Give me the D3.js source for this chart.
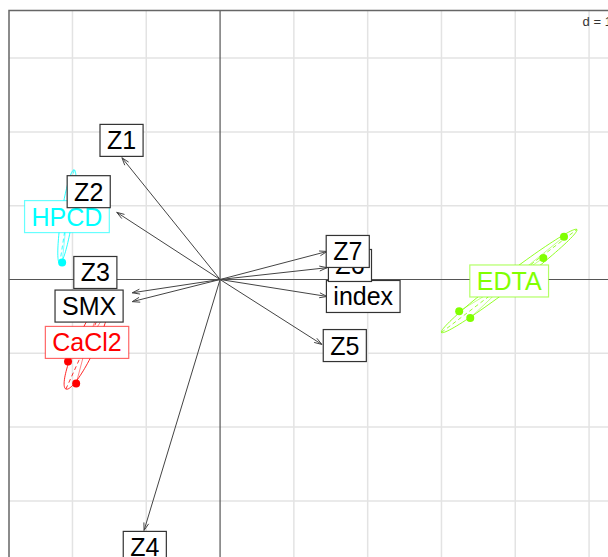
<!DOCTYPE html>
<html>
<head>
<meta charset="utf-8">
<script src="https://cdn.jsdelivr.net/npm/d3@7/dist/d3.min.js"></script>
<style>
  body { margin: 0; background: #fff; }
  text { font-family: "Liberation Sans", Arial, sans-serif; }
</style>
</head>
<body>
<div id="chart"></div>
<script>
const w = 608;
const h = 557;
const unit = 73.8; // pixels per grid unit (d = 1)

// arrows (variables)
const varNames = ['Z1', 'Z2', 'Z3', 'SMX', 'Z4', 'Z5', 'index', 'Z6', 'Z7'];
const varX = [-1.33, -1.40, -1.19, -1.19, -1.03, 1.38, 1.45, 1.45, 1.45];
const varY = [1.65, 0.91, -0.18, -0.30, -3.40, -0.88, -0.23, 0.16, 0.38];
// where the label boxes ended up
const labX = [-1.335, -1.78, -1.69, -1.775, -1.02, 1.69, 1.94, 1.76, 1.73];
const labY = [1.885, 1.19, 0.095, -0.36, -3.63, -0.895, -0.23, 0.19, 0.38];

// classes (rows)
const classNames = ['CaCl2', 'EDTA', 'HPCD'];
const classColors = ['#FF0000', '#80FF00', '#00FFFF'];
const cacl2X = [-2.06, -1.95, -1.63, -1.57];
const cacl2Y = [-1.11, -1.41, -0.39, -0.50];
const edtaX = [4.66, 4.38, 3.24, 3.39];
const edtaY = [0.58, 0.29, -0.43, -0.52];
const hpcdX = [-2.02, -1.97, -2.14, -2.17];
const hpcdY = [1.34, 1.12, 0.23, 0.72];
const classX = [cacl2X, edtaX, hpcdX];
const classY = [cacl2Y, edtaY, hpcdY];

const gridX = [-2, -1, 1, 2, 3, 4, 5];
const gridY = [-3, -2, -1, 1, 2, 3];

const xmin = -2.86, xmax = 5.35, ymin = -3.9, ymax = 3.645;
const frameLeft = 9, frameTop = 10.5;

const x = d3.scaleLinear().domain([xmin, xmax]).range([frameLeft, frameLeft + (xmax - xmin) * unit]);
const y = d3.scaleLinear().domain([ymin, ymax]).range([frameTop + (ymax - ymin) * unit, frameTop]);

const svg = d3.select('#chart').append('svg')
  .attr('width', w)
  .attr('height', h);

// grid
svg.append('g').selectAll('line')
  .data(gridX).enter().append('line')
  .attr('x1', d => x(d)).attr('x2', d => x(d))
  .attr('y1', y(ymax)).attr('y2', y(ymin))
  .attr('stroke', '#e3e3e3').attr('stroke-width', 1.5);
svg.append('g').selectAll('line')
  .data(gridY).enter().append('line')
  .attr('y1', d => y(d)).attr('y2', d => y(d))
  .attr('x1', x(xmin)).attr('x2', x(xmax))
  .attr('stroke', '#e3e3e3').attr('stroke-width', 1.5);

// axes through origin
svg.append('line')
  .attr('x1', x(0)).attr('x2', x(0)).attr('y1', y(ymax)).attr('y2', y(ymin))
  .attr('stroke', '#555').attr('stroke-width', 1.2);
svg.append('line')
  .attr('x1', x(xmin)).attr('x2', x(xmax)).attr('y1', y(0)).attr('y2', y(0))
  .attr('stroke', '#555').attr('stroke-width', 1.2);

// s.class: ellipses, stars, points
const line = d3.line().x(d => x(d[0])).y(d => y(d[1]));

const centroids = [];
classNames.forEach(function (name, k) {
  const px = classX[k], py = classY[k], col = classColors[k];
  const n = px.length;
  const mx = d3.mean(px), my = d3.mean(py);
  centroids.push([mx, my]);
  let a = 0, b = 0, c = 0;
  for (let i = 0; i < n; i++) {
    a += (px[i] - mx) * (px[i] - mx) / n;
    b += (px[i] - mx) * (py[i] - my) / n;
    c += (py[i] - my) * (py[i] - my) / n;
  }
  const half = Math.sqrt((a - c) * (a - c) / 4 + b * b);
  const l1 = (a + c) / 2 + half, l2 = Math.max((a + c) / 2 - half, 0);
  const th = 0.5 * Math.atan2(2 * b, a - c);
  const r1 = 1.5 * Math.sqrt(l1), r2 = 1.5 * Math.sqrt(l2);
  const ct = Math.cos(th), st = Math.sin(th);
  const pts = d3.range(0, 101).map(function (i) {
    const t = i / 100 * 2 * Math.PI;
    return [mx + r1 * Math.cos(t) * ct - r2 * Math.sin(t) * st,
            my + r1 * Math.cos(t) * st + r2 * Math.sin(t) * ct];
  });
  const g = svg.append('g');
  g.append('path').attr('d', line(pts))
    .attr('fill', 'none').attr('stroke', col).attr('stroke-width', 1).attr('opacity', 0.85);
  // ellipse axes
  g.append('path').attr('d', line([[mx - r1 * ct, my - r1 * st], [mx + r1 * ct, my + r1 * st]]))
    .attr('stroke', col).attr('stroke-width', 1).attr('stroke-dasharray', '4,3').attr('opacity', 0.8);
  g.append('path').attr('d', line([[mx + r2 * st, my - r2 * ct], [mx - r2 * st, my + r2 * ct]]))
    .attr('stroke', col).attr('stroke-width', 1).attr('stroke-dasharray', '4,3').attr('opacity', 0.8);
  // star
  g.selectAll('.star').data(d3.range(n)).enter().append('line')
    .attr('x1', x(mx)).attr('y1', y(my))
    .attr('x2', i => x(px[i])).attr('y2', i => y(py[i]))
    .attr('stroke', col).attr('stroke-width', 0.8).attr('opacity', 0.6);
  g.selectAll('circle').data(d3.range(n)).enter().append('circle')
    .attr('cx', i => x(px[i])).attr('cy', i => y(py[i]))
    .attr('r', 4).attr('fill', col);
});

function labelBox(g, cx, cy, txt, col, boxCol) {
  const fs = 25;
  const t = g.append('text')
    .attr('x', cx).attr('y', cy + fs * 0.36)
    .attr('text-anchor', 'middle')
    .attr('font-size', fs)
    .attr('fill', col)
    .text(txt);
  const tw = t.node().getComputedTextLength() + 2 * 0.278 * fs;
  const bh = 32;
  g.insert('rect', 'text')
    .attr('x', cx - tw / 2).attr('y', cy - bh / 2)
    .attr('width', tw).attr('height', bh)
    .attr('fill', '#fff').attr('stroke', boxCol).attr('stroke-width', 1.2);
}

// class labels
classNames.forEach(function (name, k) {
  const g = svg.append('g');
  labelBox(g, x(centroids[k][0]), y(centroids[k][1]), name, classColors[k],
    d3.color(classColors[k]).copy({opacity: 0.6}));
});

// arrows
const arrows = svg.append('g');
varNames.forEach(function (name, i) {
  const x0 = x(0), y0 = y(0), x1 = x(varX[i]), y1 = y(varY[i]);
  arrows.append('line')
    .attr('x1', x0).attr('y1', y0).attr('x2', x1).attr('y2', y1)
    .attr('stroke', '#444').attr('stroke-width', 1);
  const ang = Math.atan2(y1 - y0, x1 - x0);
  const len = 8, spread = Math.PI / 10;
  const hp = [
    [x1 - len * Math.cos(ang - spread), y1 - len * Math.sin(ang - spread)],
    [x1, y1],
    [x1 - len * Math.cos(ang + spread), y1 - len * Math.sin(ang + spread)]
  ];
  arrows.append('path')
    .attr('d', d3.line()(hp))
    .attr('fill', 'none').attr('stroke', '#444').attr('stroke-width', 1);
});

// arrow labels
varNames.forEach(function (name, i) {
  const g = svg.append('g');
  labelBox(g, x(labX[i]), y(labY[i]), name, '#000', '#333');
});

// d = 1
svg.append('text')
  .attr('x', x(xmax) - 3).attr('y', y(ymax) + 15)
  .attr('text-anchor', 'end')
  .attr('font-size', 13)
  .attr('fill', '#333')
  .text('d = 1');

// frame
svg.append('rect')
  .attr('x', x(xmin)).attr('y', y(ymax))
  .attr('width', x(xmax) - x(xmin)).attr('height', y(ymin) - y(ymax))
  .attr('fill', 'none').attr('stroke', '#666').attr('stroke-width', 1.5);
</script>
</body>
</html>
